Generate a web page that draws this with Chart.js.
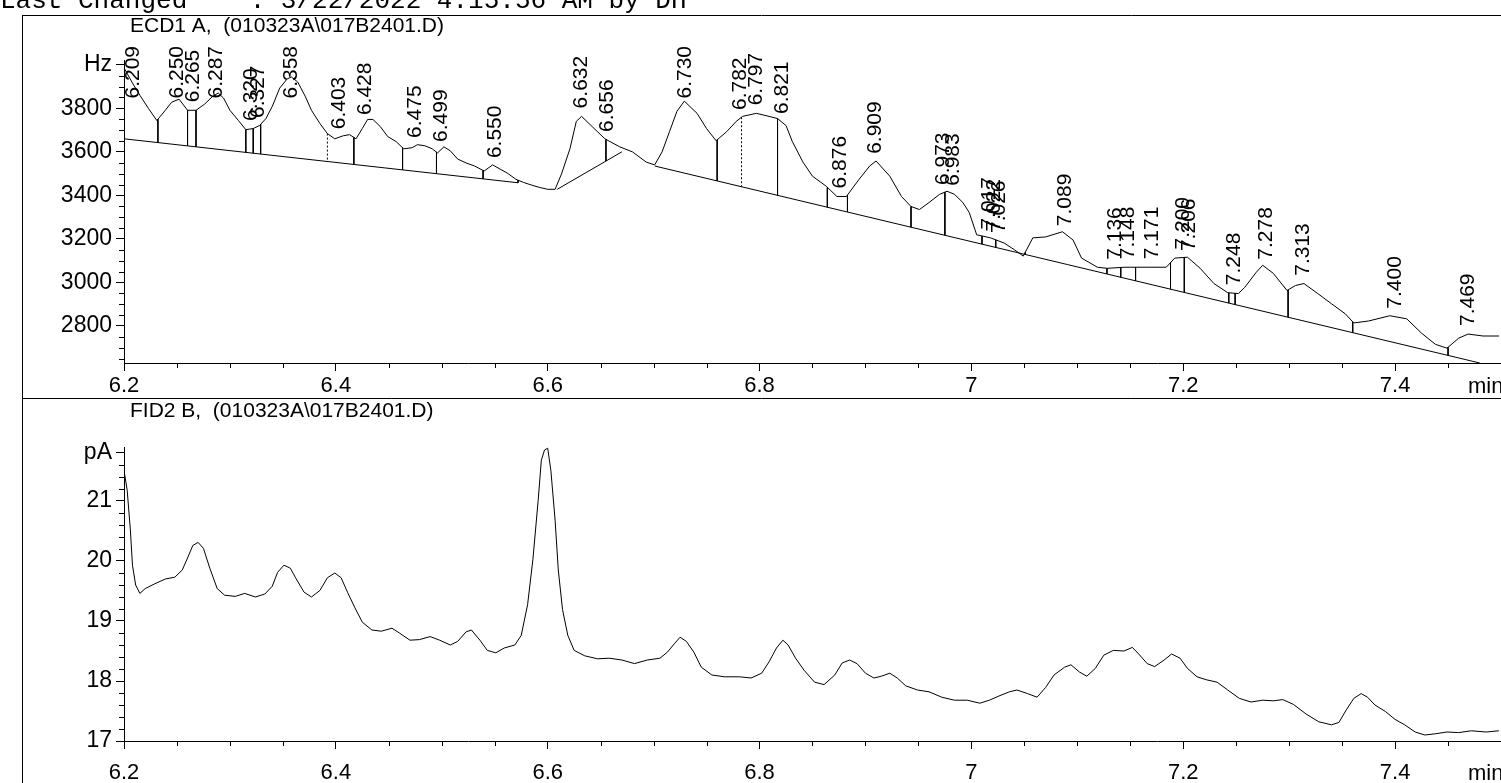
<!DOCTYPE html>
<html>
<head>
<meta charset="utf-8">
<script src="https://cdn.jsdelivr.net/npm/chart.js@4.4.1/dist/chart.umd.min.js"></script>
<style>
  html, body { margin: 0; padding: 0; background: #fff; width: 1501px; height: 783px; overflow: hidden; }
  canvas { position: absolute; left: 0; }
  #ecd { top: 0; }
  #fid { top: 398px; }
</style>
</head>
<body>
<canvas id="ecd" width="1501" height="398"></canvas>
<canvas id="fid" width="1501" height="385"></canvas>
<script>
// ---- ECD1 A signal (retention time in min, response in Hz) ----
const ecdTime = [6.200,6.208,6.215,6.223,6.231,6.239,6.245,6.252,6.260,6.268,6.276,6.284,6.289,6.294,6.300,6.308,6.315,6.322,6.328,6.334,6.340,6.347,6.354,6.358,6.364,6.371,6.377,6.385,6.392,6.399,6.407,6.413,6.419,6.425,6.430,6.435,6.442,6.449,6.457,6.464,6.472,6.477,6.484,6.491,6.496,6.502,6.508,6.515,6.523,6.531,6.540,6.548,6.555,6.562,6.570,6.577,6.585,6.592,6.600,6.607,6.613,6.621,6.627,6.632,6.642,6.654,6.668,6.680,6.693,6.701,6.708,6.715,6.722,6.729,6.741,6.750,6.759,6.769,6.778,6.784,6.797,6.809,6.817,6.825,6.831,6.841,6.850,6.863,6.873,6.882,6.894,6.904,6.910,6.923,6.934,6.943,6.951,6.960,6.970,6.977,6.984,6.992,6.998,7.005,7.018,7.031,7.041,7.049,7.058,7.070,7.086,7.096,7.104,7.119,7.128,7.145,7.164,7.184,7.192,7.204,7.216,7.229,7.242,7.252,7.258,7.269,7.275,7.285,7.298,7.306,7.314,7.327,7.340,7.353,7.361,7.375,7.395,7.411,7.425,7.438,7.449,7.460,7.469,7.483,7.498];
const ecdHz = [3986,3916,3860,3800,3744,3791,3828,3842,3791,3791,3819,3856,3870,3847,3791,3744,3702,3707,3721,3753,3809,3893,3935,3944,3921,3856,3791,3730,3684,3660,3674,3679,3660,3707,3749,3749,3716,3670,3647,3614,3619,3633,3628,3614,3595,3623,3605,3567,3549,3535,3512,3540,3521,3502,3474,3460,3447,3437,3428,3428,3498,3614,3740,3763,3716,3660,3623,3600,3553,3540,3600,3693,3786,3833,3777,3707,3651,3693,3740,3763,3777,3763,3753,3721,3647,3553,3488,3442,3395,3395,3474,3535,3558,3488,3395,3349,3335,3367,3405,3419,3405,3367,3321,3219,3205,3181,3149,3121,3205,3209,3233,3195,3112,3070,3065,3070,3070,3070,3112,3116,3065,2995,2953,2949,2977,3047,3079,3042,2963,2986,2995,2949,2902,2856,2814,2823,2847,2833,2767,2716,2698,2744,2763,2754,2754];

// Integration baselines (start / end of each segment)
const baseT0 = [6.200, 6.609, 6.701];
const baseV0 = [3660, 3428, 3535];
const baseT1 = [6.572, 6.670, 7.480];
const baseV1 = [3458, 3600, 2630];

// Peak boundary drop lines
const dropTimes = [6.232,6.260,6.268,6.315,6.322,6.329,6.417,6.463,6.495,6.539,6.572,6.655,6.760,6.817,6.864,6.883,6.943,6.975,7.010,7.023,7.051,7.128,7.141,7.155,7.188,7.201,7.243,7.249,7.299,7.360,7.450];
const dashedDropTimes = [6.392, 6.783];

// Retention time annotations
const peakLabels = ['6.209','6.250','6.265','6.287','6.320','6.327','6.358','6.403','6.428','6.475','6.499','6.550','6.632','6.656','6.730','6.782','6.797','6.821','6.876','6.909','6.973','6.983','7.017','7.022','7.026','7.089','7.136','7.148','7.171','7.200','7.206','7.248','7.278','7.313','7.400','7.469'];

// ---- FID2 B signal (retention time in min, response in pA) ----
const fidTime = [6.200,6.203,6.206,6.208,6.211,6.215,6.220,6.229,6.239,6.248,6.255,6.260,6.265,6.270,6.275,6.281,6.288,6.295,6.305,6.314,6.324,6.333,6.340,6.345,6.351,6.357,6.362,6.370,6.377,6.385,6.392,6.399,6.405,6.411,6.418,6.425,6.434,6.443,6.453,6.460,6.470,6.479,6.489,6.498,6.508,6.515,6.523,6.528,6.536,6.543,6.551,6.559,6.569,6.575,6.581,6.586,6.591,6.594,6.597,6.600,6.603,6.607,6.610,6.614,6.619,6.625,6.635,6.647,6.658,6.670,6.682,6.694,6.706,6.713,6.720,6.725,6.731,6.738,6.745,6.755,6.767,6.781,6.792,6.802,6.809,6.816,6.822,6.827,6.834,6.842,6.852,6.861,6.871,6.878,6.885,6.892,6.900,6.908,6.915,6.923,6.930,6.938,6.949,6.960,6.972,6.984,6.996,7.008,7.017,7.026,7.036,7.043,7.053,7.062,7.070,7.078,7.088,7.094,7.102,7.109,7.117,7.125,7.134,7.144,7.152,7.158,7.166,7.173,7.182,7.189,7.197,7.204,7.213,7.222,7.232,7.242,7.253,7.264,7.275,7.285,7.294,7.304,7.316,7.328,7.340,7.347,7.354,7.361,7.368,7.374,7.381,7.391,7.400,7.409,7.419,7.428,7.438,7.449,7.460,7.472,7.486,7.498];
const fidPA = [21.51,21.18,20.52,19.93,19.60,19.46,19.54,19.62,19.70,19.73,19.85,20.05,20.26,20.31,20.21,19.88,19.54,19.43,19.41,19.46,19.40,19.45,19.58,19.81,19.93,19.88,19.72,19.48,19.40,19.51,19.72,19.80,19.72,19.48,19.22,18.98,18.85,18.83,18.88,18.80,18.68,18.69,18.74,18.68,18.60,18.66,18.82,18.85,18.68,18.51,18.47,18.55,18.60,18.76,19.27,20.02,21.01,21.68,21.85,21.88,21.51,20.68,19.85,19.19,18.76,18.51,18.42,18.37,18.38,18.35,18.29,18.35,18.38,18.48,18.63,18.73,18.66,18.48,18.23,18.10,18.07,18.07,18.05,18.13,18.32,18.55,18.68,18.60,18.38,18.18,17.98,17.94,18.10,18.30,18.35,18.29,18.13,18.05,18.08,18.13,18.05,17.92,17.85,17.82,17.73,17.68,17.68,17.63,17.68,17.75,17.82,17.85,17.79,17.73,17.89,18.10,18.23,18.27,18.15,18.08,18.21,18.43,18.51,18.50,18.56,18.45,18.29,18.24,18.35,18.45,18.38,18.21,18.07,18.02,17.98,17.85,17.71,17.65,17.68,17.67,17.69,17.61,17.45,17.32,17.27,17.31,17.52,17.71,17.79,17.73,17.60,17.49,17.36,17.27,17.15,17.10,17.12,17.15,17.14,17.17,17.15,17.17];

// Axis tick values
const timeTicks = [];   for (let k = 124; k <= 150; k++) timeTicks.push(k / 20);
const hzTicks = [];     for (let k = 53; k <= 80; k++) hzTicks.push(k * 50);
const paTicks = [];     for (let k = 85; k <= 109; k++) paTicks.push(k / 5);

const headerText = 'Last Changed    : 3/22/2022 4:15:56 AM by DH';
const ecdTitle = 'ECD1 A,  (010323A\\017B2401.D)';
const fidTitle = 'FID2 B,  (010323A\\017B2401.D)';

Chart.defaults.font.family = "'Liberation Sans', Arial, sans-serif";
Chart.defaults.color = '#000';
Chart.defaults.animation = false;

const FONT = "'Liberation Sans', Arial, sans-serif";
const isMajorTime = v => Math.abs(v * 5 - Math.round(v * 5)) < 1e-6;
const isMajorHz = v => v % 200 === 0;
const isMajorPA = v => Math.abs(v - Math.round(v)) < 1e-6 || Math.abs(v - 21.8) < 1e-6;

function interp(ts, vs, t) {
  for (let i = 0; i < ts.length - 1; i++) {
    if (t >= ts[i] && t <= ts[i + 1]) {
      return vs[i] + (vs[i + 1] - vs[i]) * (t - ts[i]) / (ts[i + 1] - ts[i]);
    }
  }
  return vs[vs.length - 1];
}
function baseAt(t) {
  for (let i = 0; i < baseT0.length; i++) {
    if (t >= baseT0[i] - 1e-9 && t <= baseT1[i] + 1e-9) {
      return baseV0[i] + (baseV1[i] - baseV0[i]) * (t - baseT0[i]) / (baseT1[i] - baseT0[i]);
    }
  }
  return null;
}
function dropPoints(times) {
  const pts = [];
  times.forEach(t => {
    pts.push({ x: t, y: interp(ecdTime, ecdHz, t) });
    pts.push({ x: t, y: baseAt(t) });
    pts.push({ x: t, y: null });
  });
  return pts;
}
const basePoints = [];
baseT0.forEach((t, i) => {
  basePoints.push({ x: t, y: baseV0[i] });
  basePoints.push({ x: baseT1[i], y: baseV1[i] });
  basePoints.push({ x: baseT1[i], y: null });
});

function timeAxis(heightPx, pad) {
  return {
    type: 'linear', min: 6.2, max: 7.5,
    afterBuildTicks: s => { s.ticks = timeTicks.map(v => ({ value: v })); },
    // the time axis runs right up to the frame edge
    afterFit: s => { s.height = heightPx; s.paddingRight = 0; s.paddingLeft = 0; },
    ticks: {
      autoSkip: false, maxRotation: 0, minRotation: 0, padding: pad,
      font: { size: 22 }, color: '#000',
      callback: v => isMajorTime(v) ? String(Math.round(v * 10) / 10) : ''
    },
    grid: {
      drawOnChartArea: false, drawTicks: true, tickLength: 8, tickWidth: 1,
      tickColor: c => (c.tick && isMajorTime(c.tick.value)) ? '#000' : 'rgba(0,0,0,0)'
    },
    border: { display: true, color: '#000', width: 1 }
  };
}
function valueAxis(min, max, ticks, isMajor, unit, unitValue) {
  return {
    type: 'linear', min: min, max: max,
    afterBuildTicks: s => { s.ticks = ticks.map(v => ({ value: v })); },
    afterFit: s => { s.width = 124; },
    ticks: {
      autoSkip: false, padding: 4, font: { size: 23 }, color: '#000',
      callback: v => {
        if (Math.abs(v - unitValue) < 1e-6) return unit;
        if (!isMajor(v)) return '';
        return String(Math.round(v));
      }
    },
    grid: {
      drawOnChartArea: false, drawTicks: true, tickLength: 8, tickWidth: 1,
      tickColor: c => (c.tick && isMajor(c.tick.value)) ? '#000' : 'rgba(0,0,0,0)'
    },
    border: { display: true, color: '#000', width: 1 }
  };
}

// Short minor tick marks on both axes
const minorTicks = {
  id: 'minorTicks',
  afterDraw(chart, args, opts) {
    const c = chart.ctx, xs = chart.scales.x, ys = chart.scales.y;
    c.save(); c.strokeStyle = '#000'; c.lineWidth = 1;
    xs.ticks.forEach(t => {
      if (isMajorTime(t.value)) return;
      const px = Math.round(xs.getPixelForValue(t.value)) + 0.5;
      c.beginPath(); c.moveTo(px, xs.top); c.lineTo(px, xs.top + 5); c.stroke();
    });
    ys.ticks.forEach(t => {
      if (opts.isMajor(t.value)) return;
      const py = Math.round(ys.getPixelForValue(t.value)) + 0.5;
      c.beginPath(); c.moveTo(ys.right - 5, py); c.lineTo(ys.right, py); c.stroke();
    });
    c.restore();
  }
};

// Frame, titles and annotations
const decor = {
  id: 'decor',
  afterDraw(chart, args, opts) {
    const c = chart.ctx, xs = chart.scales.x, ys = chart.scales.y;
    c.save();
    c.fillStyle = '#000'; c.strokeStyle = '#000'; c.lineWidth = 1;
    if (opts.header) {
      c.font = "26px 'Liberation Mono', 'Courier New', monospace";
      c.textAlign = 'left'; c.textBaseline = 'alphabetic';
      c.fillText(opts.header, 0, 8);
      c.beginPath(); c.moveTo(22, 15.5); c.lineTo(1501, 15.5); c.stroke();
    }
    if (opts.separator) {
      c.beginPath(); c.moveTo(22, 0.5); c.lineTo(1501, 0.5); c.stroke();
    }
    c.beginPath(); c.moveTo(22.5, opts.frameTop); c.lineTo(22.5, chart.height); c.stroke();

    c.font = '21px ' + FONT;
    c.textAlign = 'left'; c.textBaseline = 'middle';
    c.fillText(opts.title, 130, opts.titleY);
    c.font = '22px ' + FONT;
    c.fillText('min', 1468, xs.top + opts.minOffset);

    if (opts.labels) {
      c.font = '21px ' + FONT;
      const top = ys.top - 14;
      opts.labels.forEach(lbl => {
        const t = parseFloat(lbl);
        const px = xs.getPixelForValue(t);
        const w = c.measureText(lbl).width;
        let bottom = ys.getPixelForValue(interp(ecdTime, ecdHz, t)) - 8;
        if (bottom - w < top) bottom = top + w;
        c.save();
        c.translate(px, bottom);
        c.rotate(-Math.PI / 2);
        c.textAlign = 'left'; c.textBaseline = 'middle';
        c.fillText(lbl, 0, 0);
        c.restore();
      });
    }
    c.restore();
  }
};

new Chart(document.getElementById('ecd'), {
  type: 'line',
  data: {
    datasets: [
      { data: ecdTime.map((t, i) => ({ x: t, y: ecdHz[i] })), borderColor: '#000', borderWidth: 1, pointRadius: 0, tension: 0 },
      { data: basePoints, borderColor: '#000', borderWidth: 1, pointRadius: 0, spanGaps: false },
      { data: dropPoints(dropTimes), borderColor: '#000', borderWidth: 1, pointRadius: 0, spanGaps: false },
      { data: dropPoints(dashedDropTimes), borderColor: '#000', borderWidth: 1, borderDash: [2, 2], pointRadius: 0, spanGaps: false }
    ]
  },
  options: {
    responsive: false, animation: false, events: [],
    layout: { padding: { top: 60, left: 0, right: 0, bottom: 0 } },
    plugins: {
      legend: { display: false }, tooltip: { enabled: false },
      minorTicks: { isMajor: isMajorHz },
      decor: { header: headerText, title: ecdTitle, titleY: 26, frameTop: 15, labels: peakLabels, minOffset: 24 }
    },
    scales: {
      x: timeAxis(35, 2),
      y: valueAxis(2630, 4022, hzTicks, isMajorHz, 'Hz', 4000)
    }
  },
  plugins: [minorTicks, decor]
});

new Chart(document.getElementById('fid'), {
  type: 'line',
  data: {
    datasets: [
      { data: fidTime.map((t, i) => ({ x: t, y: fidPA[i] })), borderColor: '#000', borderWidth: 1, pointRadius: 0, tension: 0 }
    ]
  },
  options: {
    responsive: false, animation: false, events: [],
    layout: { padding: { top: 49, left: 0, right: 0, bottom: 0 } },
    plugins: {
      legend: { display: false }, tooltip: { enabled: false },
      minorTicks: { isMajor: isMajorPA },
      decor: { separator: true, title: fidTitle, titleY: 13, frameTop: 0, minOffset: 33 }
    },
    scales: {
      x: timeAxis(42, 11),
      y: valueAxis(17, 21.9, paTicks, isMajorPA, 'pA', 21.8)
    }
  },
  plugins: [minorTicks, decor]
});
</script>
</body>
</html>
